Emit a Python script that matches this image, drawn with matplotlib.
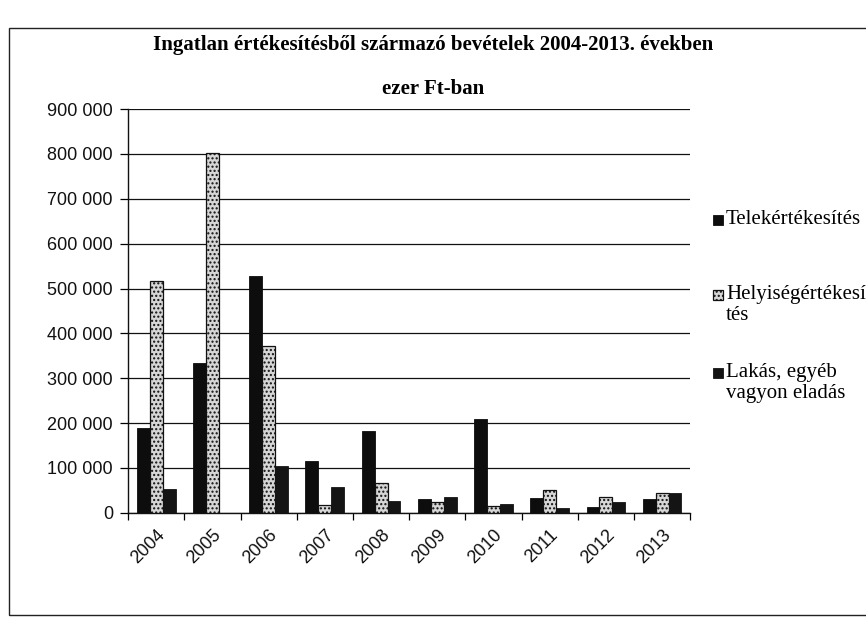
import matplotlib
matplotlib.use("Agg")
import matplotlib.pyplot as plt
import numpy as np
from matplotlib.patches import Rectangle
from matplotlib.ticker import FuncFormatter

years = ["2004", "2005", "2006", "2007", "2008", "2009", "2010", "2011", "2012", "2013"]
telek = [189000, 333000, 527000, 116000, 182000, 30000, 209000, 33000, 12000, 30000]
helyiseg = [516000, 802000, 371000, 18000, 67000, 24000, 15000, 51000, 36000, 45000]
lakas = [52000, 0, 104000, 58000, 27000, 36000, 20000, 11000, 25000, 44000]
labels = ["Telekértékesítés", "Helyiségértékesí\ntés", "Lakás, egyéb\nvagyon eladás"]

SERIF = ["Liberation Serif", "DejaVu Serif"]
SANS = ["Liberation Sans", "DejaVu Sans"]
W, H = 866, 620

plt.rcParams["hatch.color"] = "#8a8a8a"
fig = plt.figure(figsize=(W / 100, H / 100), dpi=100)
ax = fig.add_axes([0.148, 0.173, 0.649, 0.651])

# outer chart border
fig.patches.append(Rectangle((0.010, 0.008), 0.995, 0.947, transform=fig.transFigure,
                             fill=False, edgecolor="#222222", linewidth=1.0))

x = np.arange(len(years))
w = 0.23
styles = [
    dict(facecolor="#0d0d0d", edgecolor="#0d0d0d", linewidth=0.6),
    dict(facecolor="#d6d6d6", edgecolor="#111111", linewidth=0.9, hatch="...."),
    dict(facecolor="#141414", edgecolor="#141414", linewidth=0.6),
]
for i, vals in enumerate([telek, helyiseg, lakas]):
    ax.bar(x + (i - 1) * w, vals, w, zorder=3, **styles[i])

ax.set_xlim(-0.5, len(years) - 0.5)
ax.set_ylim(0, 900000)
ax.set_yticks(np.arange(0, 900001, 100000))
ax.yaxis.set_major_formatter(FuncFormatter(lambda v, _: f"{int(v):,}".replace(",", " ")))
ax.yaxis.grid(True, color="#111111", linewidth=0.9, zorder=0)

ax.set_xticks(x)
ax.set_xticklabels(years, rotation=45, ha="right", rotation_mode="anchor")
ax.set_xticks(np.arange(-0.5, len(years), 1), minor=True)
ax.tick_params(axis="x", which="major", length=0, pad=10)
ax.tick_params(axis="x", which="minor", length=5, direction="out", width=0.9)
ax.tick_params(axis="y", length=6, width=0.9, direction="out", pad=5)
for t in ax.get_xticklabels() + ax.get_yticklabels():
    t.set_family(SANS)
    t.set_fontsize(13)
    t.set_color("#111111")

for side in ["top", "right"]:
    ax.spines[side].set_visible(False)
for side in ["left", "bottom"]:
    ax.spines[side].set_linewidth(1.0)
    ax.spines[side].set_color("#111111")

fig.text(0.50, 0.927, "Ingatlan értékesítésből származó bevételek 2004-2013. években",
         ha="center", va="center", family=SERIF, fontsize=15, fontweight="bold")
fig.text(0.50, 0.857, "ezer Ft-ban", ha="center", va="center", family=SERIF,
         fontsize=15, fontweight="bold")

# legend drawn by hand so the square sits beside the first text line
leg_y = [222, 297, 375]
for i, lab in enumerate(labels):
    yc = leg_y[i]
    fig.patches.append(Rectangle((713 / W, 1 - (yc + 3) / H), 10 / W, 10 / H,
                                 transform=fig.transFigure, zorder=3, **styles[i]))
    fig.text(726 / W, 1 - (yc - 12) / H, lab, ha="left", va="top", family=SERIF,
             fontsize=15, linespacing=1.15)

fig.savefig("out.png", dpi=100)
